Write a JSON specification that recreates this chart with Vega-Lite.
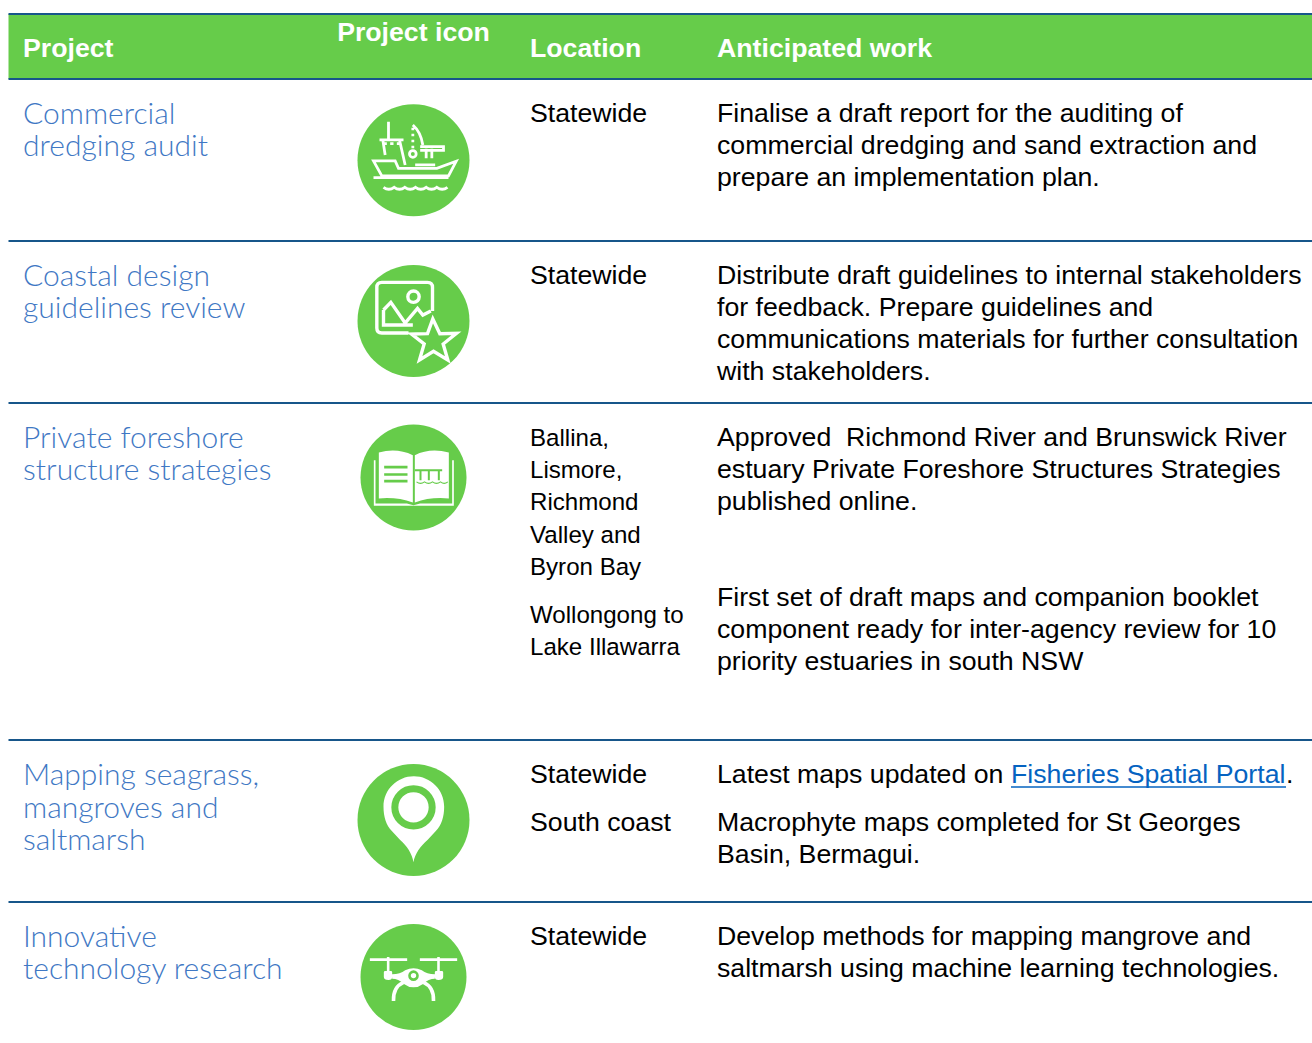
{"$schema":"https://vega.github.io/schema/vega-lite/v6.json","width":1312,"height":1043,"autosize":{"type":"fit","contains":"padding"},"padding":0,"background":"white","view":{"stroke":null},
"datasets":{
"band":[{"column":0,"column_end":7,"line":1,"line_end":4}],
"rules":[{"column":0,"column_end":7,"line":1},{"column":0,"column_end":7,"line":4},{"column":0,"column_end":7,"line":9},{"column":0,"column_end":7,"line":15},{"column":0,"column_end":7,"line":27},{"column":0,"column_end":7,"line":35}],
"header":[{"column":1,"line":3,"text":"Project"},{"column":3,"line":3,"text":"Location"},{"column":4,"line":3,"text":"Anticipated work"}],
"headerIcon":[{"column":2,"line":2,"text":"Project icon"}],
"project":[{"column":1,"line":5,"text":"Commercial"},{"column":1,"line":6,"text":"dredging audit"},{"column":1,"line":10,"text":"Coastal design"},{"column":1,"line":11,"text":"guidelines review"},{"column":1,"line":16,"text":"Private foreshore"},{"column":1,"line":17,"text":"structure strategies"},{"column":1,"line":28,"text":"Mapping seagrass,"},{"column":1,"line":30,"text":"mangroves and"},{"column":1,"line":33,"text":"saltmarsh"},{"column":1,"line":36,"text":"Innovative"},{"column":1,"line":37,"text":"technology research"}],
"small":[{"column":3,"line":16,"text":"Ballina,"},{"column":3,"line":17,"text":"Lismore,"},{"column":3,"line":19,"text":"Richmond"},{"column":3,"line":20,"text":"Valley and"},{"column":3,"line":21,"text":"Byron Bay"},{"column":3,"line":23,"text":"Wollongong to"},{"column":3,"line":25,"text":"Lake Illawarra"}],
"body":[{"column":3,"line":5,"text":"Statewide"},{"column":3,"line":10,"text":"Statewide"},{"column":3,"line":28,"text":"Statewide"},{"column":3,"line":32,"text":"South coast"},{"column":3,"line":36,"text":"Statewide"},
{"column":4,"line":5,"text":"Finalise a draft report for the auditing of"},{"column":4,"line":6,"text":"commercial dredging and sand extraction and"},{"column":4,"line":8,"text":"prepare an implementation plan."},
{"column":4,"line":10,"text":"Distribute draft guidelines to internal stakeholders"},{"column":4,"line":11,"text":"for feedback. Prepare guidelines and"},{"column":4,"line":13,"text":"communications materials for further consultation"},{"column":4,"line":14,"text":"with stakeholders."},
{"column":4,"line":16,"text":"Approved \u00a0Richmond River and Brunswick River"},{"column":4,"line":17,"text":"estuary Private Foreshore Structures Strategies"},{"column":4,"line":19,"text":"published online."},
{"column":4,"line":22,"text":"First set of draft maps and companion booklet"},{"column":4,"line":24,"text":"component ready for inter-agency review for 10"},{"column":4,"line":26,"text":"priority estuaries in south NSW"},
{"column":4,"line":28,"text":"Latest maps updated on"},{"column":6,"line":28,"text":"."},
{"column":4,"line":32,"text":"Macrophyte maps completed for St Georges"},{"column":4,"line":34,"text":"Basin, Bermagui."},
{"column":4,"line":36,"text":"Develop methods for mapping mangrove and"},{"column":4,"line":37,"text":"saltmarsh using machine learning technologies."}],
"link":[{"column":5,"column_end":6,"line":28,"underline":29,"text":"Fisheries Spatial Portal"}],
"icons":[{"column":2,"line":7,"icon":"dredging"},{"column":2,"line":12,"icon":"photo"},{"column":2,"line":18,"icon":"book"},{"column":2,"line":31,"icon":"pin"},{"column":2,"line":38,"icon":"drone"}],
"glyphs":[{"column":2,"line":7,"glyph":"ship lines","paint":"line"},{"column":2,"line":12,"glyph":"photo lines","paint":"line"},{"column":2,"line":18,"glyph":"book pages","paint":"fill"},{"column":2,"line":18,"glyph":"book cover","paint":"fill"},{"column":2,"line":18,"glyph":"book text","paint":"green"},{"column":2,"line":18,"glyph":"book pier","paint":"green"},{"column":2,"line":18,"glyph":"book water","paint":"green"},{"column":2,"line":31,"glyph":"pin","paint":"fill"},{"column":2,"line":31,"glyph":"pin ring","paint":"green"},{"column":2,"line":38,"glyph":"drone body","paint":"fill"},{"column":2,"line":38,"glyph":"drone lines","paint":"line"},{"column":2,"line":38,"glyph":"drone legs","paint":"line"},{"column":2,"line":38,"glyph":"drone eye","paint":"green"}]
},
"encoding":{
"x":{"field":"column","type":"quantitative","axis":null,"scale":{"domain":[0,1,2,3,4,5,6,7],"range":[8.5,23,413.5,530,717,1011,1286,1312],"nice":false,"zero":false}},
"y":{"field":"line","type":"quantitative","axis":null,"scale":{"domain":[1,2,3,4,5,6,7,8,9,10,11,12,13,14,15,16,17,18,19,20,21,22,23,24,25,26,27,28,29,30,31,32,33,34,35,36,37,38],"range":[14,33,48.5,79,114,146,160.3,178,241,276,308,321,340,372,403,438,470,477.5,502,535,567,598,615,630,647,662,740,775,787,808,820,823,840,855,902,937,969,977],"nice":false,"zero":false}}
},
"layer":[
{"data":{"name":"band"},"mark":{"type":"rect","fill":"#66cc4a"},"encoding":{"x2":{"field":"column_end"},"y2":{"field":"line_end"}}},
{"data":{"name":"rules"},"mark":{"type":"rule","stroke":"#17568a","strokeWidth":1.8},"encoding":{"x2":{"field":"column_end"}}},
{"data":{"name":"header"},"mark":{"type":"text","align":"left","baseline":"middle","font":"Liberation Sans","fontSize":26.7,"fontWeight":"bold","fill":"white"},"encoding":{"text":{"field":"text"}}},
{"data":{"name":"headerIcon"},"mark":{"type":"text","align":"center","baseline":"middle","font":"Liberation Sans","fontSize":26.7,"fontWeight":"bold","fill":"white"},"encoding":{"text":{"field":"text"}}},
{"data":{"name":"project"},"mark":{"type":"text","align":"left","baseline":"middle","dy":1,"font":"Lato","fontSize":30,"fontWeight":300,"fill":"#3f78c4"},"encoding":{"text":{"field":"text"}}},
{"data":{"name":"body"},"mark":{"type":"text","align":"left","baseline":"middle","font":"Liberation Sans","fontSize":26.7,"fill":"black"},"encoding":{"text":{"field":"text"}}},
{"data":{"name":"small"},"mark":{"type":"text","align":"left","baseline":"middle","dy":1,"font":"Liberation Sans","fontSize":24.1,"fill":"black"},"encoding":{"text":{"field":"text"}}},
{"data":{"name":"link"},"mark":{"type":"text","align":"left","baseline":"middle","font":"Liberation Sans","fontSize":26.7,"fill":"#0563c1"},"encoding":{"text":{"field":"text"}}},
{"data":{"name":"link"},"mark":{"type":"rule","stroke":"#0563c1","strokeWidth":1.6},"encoding":{"y":{"field":"underline","type":"quantitative"},"x2":{"field":"column_end"}}},
{"data":{"name":"icons"},"mark":{"type":"point","shape":"circle","filled":true,"fill":"#66cc4a","opacity":1,"stroke":null},"encoding":{"size":{"field":"icon","type":"ordinal","legend":null,"scale":{"type":"ordinal","domain":["dredging","photo","book","pin","drone"],"range":[12544,12544,11236,12544,11236]}}}},
{"data":{"name":"glyphs"},
"encoding":{"shape":{"field":"glyph","type":"nominal","legend":null,"scale":{"domain":["ship lines","photo lines","book pages","book cover","book text","book pier","book water","pin","pin ring","drone body","drone lines","drone legs","drone eye"],
"range":[
"M-75,-116 L-75,-61 M-102,-61 L-30,-61 M-92,-61 L-85,-16 M-42,-61 L-25,14 M-90,-50 L-80,-50 M-70,-50 L-60,-50 M-50,-50 L-40,-50 M-120,2 L-55,2 L-45,24 L70,24 L128,3 L105,47 L-95,47 Z M-120,52 L105,52 M-2,-106 Q22,-85 28,-46 M-2,-98 L-2,-90 M-2,-80 L-2,-72 M-2,-62 L-2,-54 M-2,-44 L-2,-36 M-12,-19 A10,10 0 1 0 8,-19 A10,10 0 1 0 -12,-19 M20,-41 L90,-41 L90,-30 L20,-30 M38,-35 L38,-6 M55,-35 L55,-6 M5,14 L65,14 M-90,81 Q-74,93 -58,81 Q-42,93 -26,81 Q-10,93 6,81 Q22,93 38,81 Q54,93 70,81 Q86,93 102,81",
"M-15,36 L-95,36 Q-110,36 -110,21 L-110,-101 Q-110,-116 -95,-116 L42,-116 Q57,-116 57,-101 L57,-30 M-17,-73 A17,17 0 1 0 17,-73 A17,17 0 1 0 -17,-73 M-90,-33 L-68,-56 L-25,6 L12,-38 L28,-18 L52,-30 M-90,-33 L-90,12 L-2,12 M58,-6 L79,38 L129,37 L89,69 L103,117 L60,91 L18,117 L32,69 L-6,39 L42,38 Z",
"M-104,-75 Q-50,-90 -2,-67 L-2,75 Q-50,58 -104,63 Z M4,-67 Q50,-90 106,-75 L106,63 Q50,58 4,75 Z",
"M-119,-52 L-114,-52 L-114,78 L-20,78 L0,83 L20,78 L116,78 L116,-52 L121,-52 L121,85 L-119,85 Z",
"M-88,-31 L-18,-31 M-88,-9 L-18,-9 M-88,11 L-18,11",
"M4,-22 L86,-22 M21,-22 L21,8 M46,-22 L46,8 M76,-22 L76,8",
"M9,13 Q21,22 33,13 Q45,22 57,13 Q69,22 81,13 Q92,22 103,13",
"M0,127 C-4,100 -20,78 -40,60 L-65,33 C-82,15 -90,-10 -90,-40 A91,91 0 0 1 92,-40 C92,-10 84,15 67,33 L42,60 C22,78 4,100 0,127 Z",
"M-56,-38 A56,56 0 1 0 56,-38 A56,56 0 1 0 -56,-38",
"M-89,-14 Q-89,-18 -85,-18 L-68,-18 Q-64,-18 -64,-14 L-64,0 Q-64,9 -75,9 Q-89,9 -89,0 Z M89,-14 Q89,-18 85,-18 L68,-18 Q64,-18 64,-14 L64,0 Q64,9 75,9 Q89,9 89,0 Z M-64,-8 Q-40,-8 -25,-20 Q0,-32 25,-20 Q40,-8 64,-8 L64,5 Q45,5 30,20 Q0,42 -30,20 Q-45,5 -64,5 Z",
"M-131,-52 L-19,-52 M19,-52 L131,-52 M-76,-60 L-76,-15 M75,-60 L75,-15",
"M-30,16 Q-62,30 -60,72 M30,16 Q62,30 60,72",
"M-12,-4 A12,12 0 1 0 12,-4 A12,12 0 1 0 -12,-4"
]}}},
"layer":[
{"transform":[{"filter":"datum.paint==='fill'"}],"mark":{"type":"point","filled":true,"fill":"white","stroke":null,"opacity":1,"size":0.4444}},
{"transform":[{"filter":"datum.paint!=='fill'"}],"mark":{"type":"point","filled":false,"fill":null,"opacity":1,"size":0.4444,"strokeJoin":"miter","strokeCap":"butt"},
"encoding":{"stroke":{"field":"paint","type":"nominal","legend":null,"scale":{"domain":["line","green"],"range":["white","#66cc4a"]}},
"strokeWidth":{"field":"glyph","type":"ordinal","legend":null,"scale":{"type":"ordinal","domain":["ship lines","photo lines","book text","book pier","book water","pin ring","drone lines","drone legs","drone eye"],"range":[2.8,3.4,2.6,2,1.1,7,2.6,3.6,2.6]}}}}
]}
]}
